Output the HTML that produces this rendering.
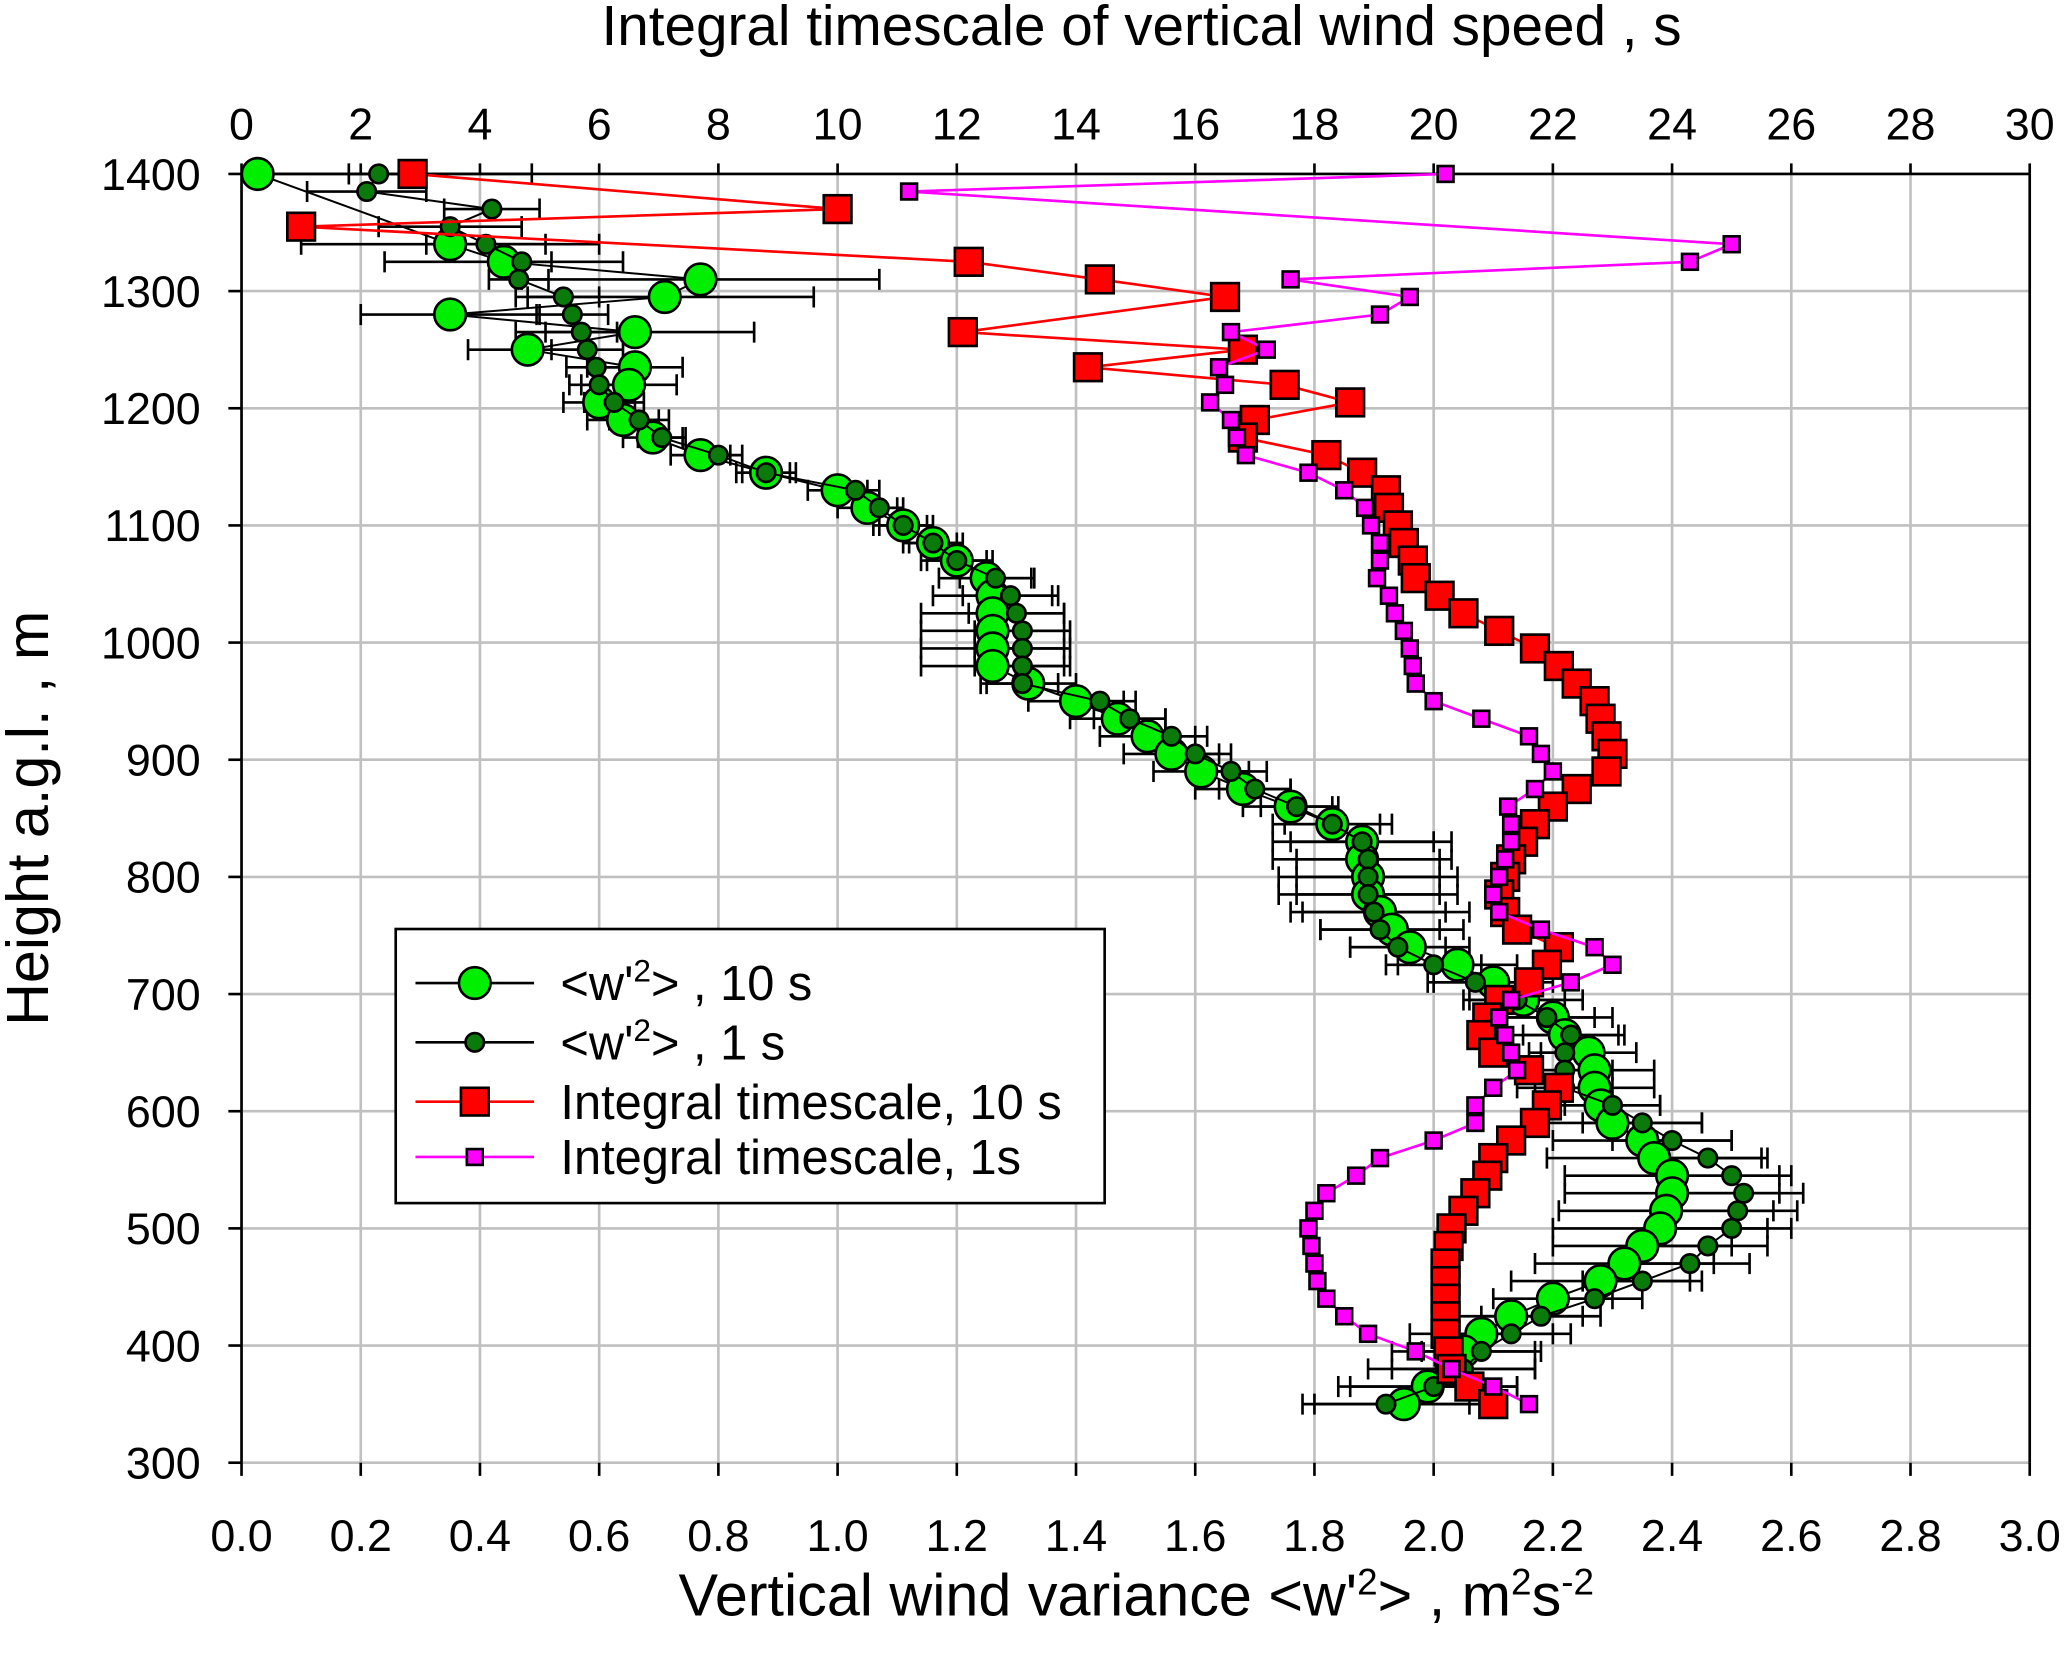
<!DOCTYPE html>
<html><head><meta charset="utf-8"><style>
html,body{margin:0;padding:0;background:#fff;}
svg{display:block;font-family:"Liberation Sans",Arial,sans-serif;}
</style></head><body>
<svg id="chart" width="2067" height="1663" viewBox="0 0 1568 1262" xmlns="http://www.w3.org/2000/svg">
<g id="grid"></g>
<g id="axes"></g>
<g id="series"></g>
<text x="866" y="34" font-size="43" text-anchor="middle">Integral timescale of vertical wind speed , s</text>
<text x="862" y="1226" font-size="45" text-anchor="middle">Vertical wind variance &lt;w'<tspan dy="-16" font-size="28">2</tspan><tspan dy="16">&gt; , m</tspan><tspan dy="-16" font-size="28">2</tspan><tspan dy="16">s</tspan><tspan dy="-16" font-size="28">-2</tspan></text>
<text transform="translate(36,621) rotate(-90)" font-size="45" text-anchor="middle">Height a.g.l. , m</text>
<g id="legend">
<rect x="300" y="705" width="538" height="208" fill="#fff" stroke="#000" stroke-width="2"/>
</g>
</svg>
<script>
const heights=[1400,1385,1370,1355,1340,1325,1310,1295,1280,1265,1250,1235,1220,1205,1190,1175,1160,1145,1130,1115,1100,1085,1070,1055,1040,1025,1010,995,980,965,950,935,920,905,890,875,860,845,830,815,800,785,770,755,740,725,710,695,680,665,650,635,620,605,590,575,560,545,530,515,500,485,470,455,440,425,410,395,380,365,350];
const var10=[0.027,null,null,null,0.35,0.44,0.77,0.71,0.35,0.66,0.48,0.66,0.65,0.60,0.64,0.69,0.77,0.88,1.00,1.05,1.11,1.16,1.20,1.25,1.26,1.26,1.26,1.26,1.26,1.32,1.40,1.47,1.52,1.56,1.61,1.68,1.76,1.83,1.88,1.88,1.89,1.89,1.91,1.93,1.96,2.04,2.10,2.15,2.20,2.22,2.26,2.27,2.27,2.28,2.30,2.35,2.37,2.40,2.40,2.39,2.38,2.35,2.32,2.28,2.20,2.13,2.08,2.05,2.03,1.99,1.95];
const var1=[0.23,0.21,0.42,0.35,0.41,0.47,0.465,0.54,0.555,0.57,0.58,0.595,0.60,0.625,0.667,0.705,0.80,0.88,1.03,1.07,1.11,1.16,1.20,1.265,1.29,1.30,1.31,1.31,1.31,1.31,1.44,1.49,1.56,1.60,1.66,1.70,1.77,1.83,1.88,1.89,1.89,1.89,1.90,1.91,1.94,2.00,2.07,2.14,2.19,2.23,2.22,2.22,2.22,2.30,2.35,2.40,2.46,2.50,2.52,2.51,2.50,2.46,2.43,2.35,2.27,2.18,2.13,2.08,2.05,2.00,1.92];
const err10=[0.46,null,null,null,0.25,0.2,0.3,0.25,0.15,0.2,0.1,0.08,0.08,0.06,0.06,0.05,0.05,0.05,0.05,0.05,0.05,0.05,0.06,0.08,0.1,0.12,0.12,0.12,0.12,0.08,0.08,0.08,0.08,0.08,0.08,0.08,0.08,0.1,0.15,0.15,0.15,0.15,0.15,0.12,0.1,0.1,0.1,0.1,0.1,0.1,0.08,0.1,0.1,0.1,0.15,0.15,0.18,0.18,0.18,0.18,0.18,0.15,0.15,0.15,0.1,0.12,0.12,0.12,0.14,0.15,0.15];
const err1=[0.05,0.1,0.08,0.12,0.1,0.05,0.05,0.06,0.06,0.06,0.06,0.05,0.05,0.05,0.05,0.04,0.04,0.04,0.04,0.04,0.04,0.04,0.05,0.06,0.08,0.08,0.08,0.08,0.08,0.06,0.06,0.06,0.06,0.06,0.06,0.06,0.06,0.08,0.12,0.12,0.12,0.12,0.12,0.1,0.08,0.08,0.08,0.08,0.08,0.08,0.06,0.08,0.08,0.08,0.1,0.1,0.1,0.1,0.1,0.1,0.1,0.1,0.1,0.1,0.08,0.1,0.1,0.1,0.12,0.14,0.14];
const ts10=[2.87,null,10.0,1.0,null,12.2,14.4,16.5,null,12.1,16.8,14.2,17.5,18.6,17.0,16.8,18.2,18.8,19.2,19.25,19.4,19.5,19.65,19.7,20.1,20.5,21.1,21.7,22.1,22.4,22.7,22.8,22.9,23.0,22.9,22.4,22.0,21.7,21.5,21.3,21.2,21.1,21.2,21.4,22.1,21.9,21.6,21.1,20.9,20.8,21.0,21.6,22.1,21.9,21.7,21.3,21.0,20.9,20.7,20.5,20.3,20.25,20.2,20.2,20.2,20.2,20.2,20.25,20.3,20.6,21.0];
const ts1=[20.2,11.2,null,null,25.0,24.3,17.6,19.6,19.1,16.6,17.2,16.4,16.5,16.25,16.6,16.7,16.85,17.9,18.5,18.85,18.95,19.1,19.1,19.05,19.25,19.35,19.5,19.6,19.65,19.7,20.0,20.8,21.6,21.8,22.0,21.7,21.25,21.3,21.3,21.2,21.1,21.0,21.1,21.8,22.7,23.0,22.3,21.3,21.1,21.2,21.3,21.4,21.0,20.7,20.7,20.0,19.1,18.7,18.2,18.0,17.9,17.95,18.0,18.05,18.2,18.5,18.9,19.7,20.3,21.0,21.6];
const xTicks=["0.0","0.2","0.4","0.6","0.8","1.0","1.2","1.4","1.6","1.8","2.0","2.2","2.4","2.6","2.8","3.0"];
const topTicks=["0","2","4","6","8","10","12","14","16","18","20","22","24","26","28","30"];
const yTicks=["300","400","500","600","700","800","900","1000","1100","1200","1300","1400"];

const X0=183,X1=1540,Y0=1110,Y1=132;
const xs=v=>X0+(v/3)*(X1-X0);
const xt=v=>X0+(v/30)*(X1-X0);
const ys=h=>Y0-(h-300)/1100*(Y0-Y1);
const NS="http://www.w3.org/2000/svg";
function mk(tag,attrs,parent){const e=document.createElementNS(NS,tag);for(const k in attrs)e.setAttribute(k,attrs[k]);parent.appendChild(e);return e;}
const grid=document.getElementById('grid'),axes=document.getElementById('axes'),ser=document.getElementById('series'),leg=document.getElementById('legend');

xTicks.forEach((t,i)=>{const v=parseFloat(t);const x=xs(v);
 const g=mk('line',{x1:x,x2:x,y1:Y1,y2:Y0,stroke:'#c0c0c0','stroke-width':2},grid);
 
 mk('line',{x1:x,x2:x,y1:Y0,y2:Y0+10,stroke:'#000','stroke-width':2},axes);
 const tx=mk('text',{x:x,y:1177,'font-size':34,'text-anchor':'middle'},axes);tx.textContent=t;
 });
topTicks.forEach(t=>{const x=xt(parseFloat(t));
 mk('line',{x1:x,x2:x,y1:Y1,y2:Y1-8,stroke:'#000','stroke-width':2},axes);
 const tx=mk('text',{x:x,y:106,'font-size':34,'text-anchor':'middle'},axes);tx.textContent=t;
 });
yTicks.forEach(t=>{const y=ys(parseFloat(t));
 const g=mk('line',{x1:X0,x2:X1,y1:y,y2:y,stroke:'#c0c0c0','stroke-width':2},grid);
 
 mk('line',{x1:X0-10,x2:X0,y1:y,y2:y,stroke:'#000','stroke-width':2},axes);
 const tx=mk('text',{x:152,y:y+12,'font-size':34,'text-anchor':'end'},axes);tx.textContent=t;
 });
mk('line',{x1:X0,x2:X0,y1:Y1,y2:Y0,stroke:'#000','stroke-width':2},axes);
mk('line',{x1:X0,x2:X1,y1:Y1,y2:Y1,stroke:'#000','stroke-width':2},axes);
mk('line',{x1:X1,x2:X1,y1:Y1,y2:Y0,stroke:'#000','stroke-width':2},axes);

function errbars(vals,errs){heights.forEach((h,i)=>{if(vals[i]==null||errs[i]==null)return;const y=ys(h);
 const lo=vals[i]-errs[i];const a=xs(Math.max(0,lo)),b=xs(vals[i]+errs[i]);
 let d=`M${a},${y}H${b}M${b},${y-8}V${y+8}`;if(lo>=0)d+=`M${a},${y-8}V${y+8}`;
 const e=mk('path',{d:d,stroke:'#000','stroke-width':2,fill:'none'},ser);
 });}
function line(vals,sx,col,w,name){const pts=[];heights.forEach((h,i)=>{if(vals[i]!=null)pts.push(sx(vals[i])+','+ys(h));});
 const p=mk('polyline',{points:pts.join(' '),fill:'none',stroke:col,'stroke-width':w},ser);
 }
function circles(vals,r,col,name){heights.forEach((h,i)=>{if(vals[i]==null)return;
 const c=mk('circle',{cx:xs(vals[i]),cy:ys(h),r:r,fill:col,stroke:'#000','stroke-width':2},ser);
 });}
function squares(vals,s,col,name){heights.forEach((h,i)=>{if(vals[i]==null)return;
 const c=mk('rect',{x:xt(vals[i])-s/2,y:ys(h)-s/2,width:s,height:s,fill:col,stroke:'#000','stroke-width':2},ser);
 });}

errbars(var10,err10);errbars(var1,err1);
line(var10,xs,'#000',1.5,'variance-10s-line');circles(var10,12,'#00ee00','variance-10s-point');
line(var1,xs,'#000',1.5,'variance-1s-line');circles(var1,7,'#0a7a0a','variance-1s-point');
line(ts10,xt,'#ff0000',2,'timescale-10s-line');squares(ts10,21,'#ff0000','timescale-10s-point');
line(ts1,xt,'#ff00ff',2,'timescale-1s-line');squares(ts1,12,'#ff00ff','timescale-1s-point');

const legItems=[["<w'","2","> , 10 s",'c',12,'#00ee00','#000'],["<w'","2","> , 1 s",'c',7,'#0a7a0a','#000'],["Integral timescale, 10 s","","",'s',21,'#ff0000','#ff0000'],["Integral timescale, 1s","","",'s',12,'#ff00ff','#ff00ff']];
const legY=[746,791,836,878];
legItems.forEach((it,k)=>{const y=legY[k];const g=mk('g',{},leg);
 
 mk('line',{x1:315,x2:405,y1:y,y2:y,stroke:it[6],'stroke-width':2},g);
 if(it[3]=='c')mk('circle',{cx:360,cy:y,r:it[4],fill:it[5],stroke:'#000','stroke-width':2},g);
 else mk('rect',{x:360-it[4]/2,y:y-it[4]/2,width:it[4],height:it[4],fill:it[5],stroke:'#000','stroke-width':2},g);
 const t=mk('text',{x:425,y:y+13,'font-size':37},g);
 if(it[1]){t.appendChild(document.createTextNode(it[0]));const s=mk('tspan',{dy:-14,'font-size':24},t);s.textContent=it[1];const r=mk('tspan',{dy:14},t);r.textContent=it[2];}
 else t.textContent=it[0];});
</script>
</body></html>
